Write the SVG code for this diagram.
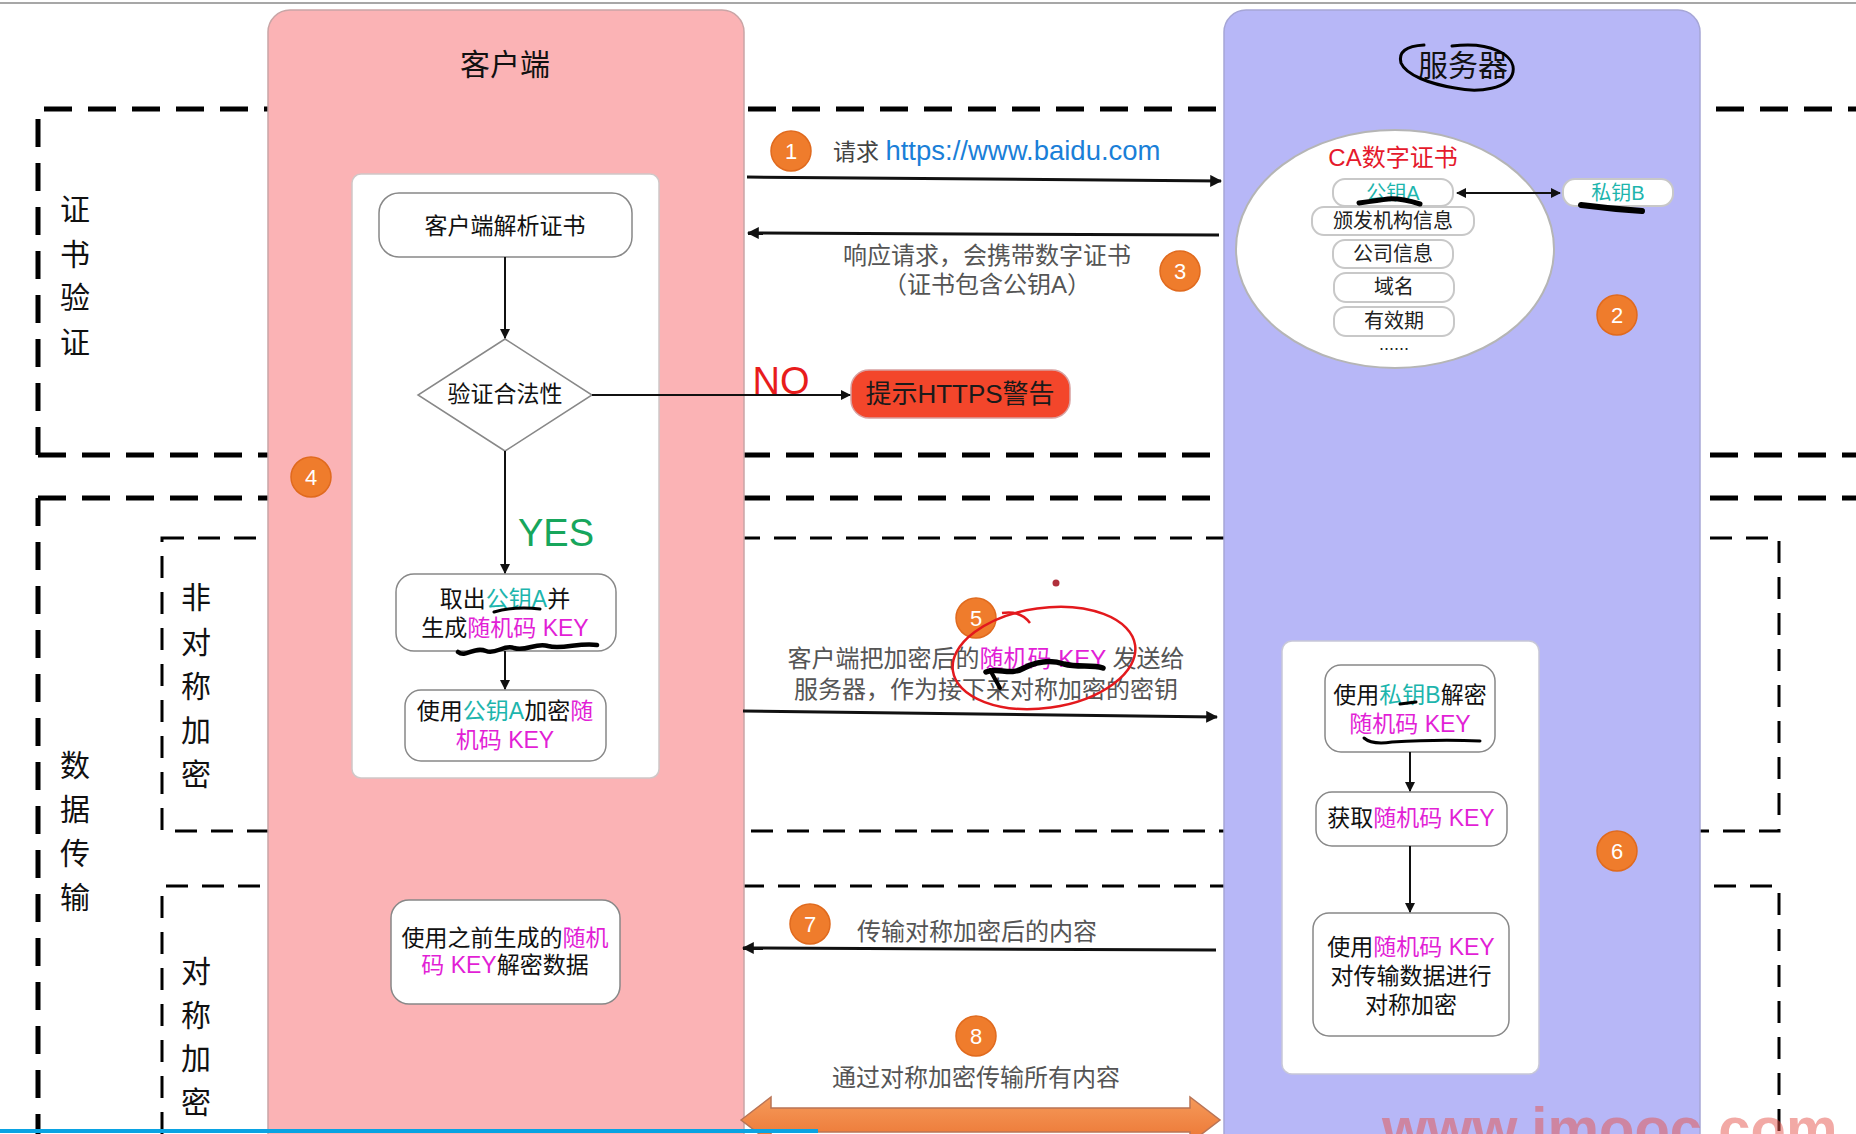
<svg xmlns="http://www.w3.org/2000/svg" width="1856" height="1134" viewBox="0 0 1856 1134">
<defs>
<style>
.t{font-family:"Liberation Sans","Noto Sans CJK SC",sans-serif;}
.big{font-size:30px;fill:#111;}
.node{fill:#fff;stroke:#888;stroke-width:1.5;}
.pill{fill:#fff;stroke:#c8c8c8;stroke-width:2;}
.nt{font-size:23px;fill:#111;text-anchor:middle;}
.lab{font-size:24px;fill:#555;}
.mg{fill:#e21fd6;}
.tl{fill:#1db5ad;}
.thick{fill:none;stroke:#000;stroke-width:5;stroke-dasharray:28 16;}
.thin{fill:none;stroke:#000;stroke-width:3;stroke-dasharray:22 14;}
.ln{fill:none;stroke:#111;stroke-width:2;}
.ar{fill:none;stroke:#111;stroke-width:3;}
.num{fill:#ef7c2c;stroke:#e06a1e;stroke-width:1.5;}
.nn{font-size:22px;fill:#fff;text-anchor:middle;}
.scr{fill:none;stroke:#000;stroke-linecap:round;stroke-linejoin:round;}
</style>
<marker id="ah" viewBox="0 0 10 10" refX="9" refY="5" markerWidth="4" markerHeight="4" orient="auto-start-reverse" markerUnits="strokeWidth"><path d="M0,0 L10,5 L0,10 z" fill="#111"/></marker>
<marker id="ah2" viewBox="0 0 10 10" refX="9" refY="5" markerWidth="5" markerHeight="5" orient="auto-start-reverse" markerUnits="strokeWidth"><path d="M0,0 L10,5 L0,10 z" fill="#111"/></marker>
<linearGradient id="og" x1="0" y1="0" x2="0" y2="1"><stop offset="0" stop-color="#f59a5a"/><stop offset="1" stop-color="#ec7634"/></linearGradient>
</defs>
<rect width="1856" height="1134" fill="#fff"/>
<line x1="0" y1="3" x2="1856" y2="3" stroke="#8a8a8a" stroke-width="1.5"/>

<g id="sections">
<path class="thick" d="M38,455 V109 H1856"/>
<path class="thick" d="M38,455 H1856"/>
<path class="thick" d="M38,498 H1856"/>
<path class="thick" d="M38,498 V1134"/>
<path class="thin" d="M162,538 H1779 V831 H162 Z"/>
<path class="thin" d="M162,1134 V886 H1779 V1134"/>
<g class="t big" text-anchor="middle">
<text x="75" y="220">证</text><text x="75" y="265">书</text><text x="75" y="308">验</text><text x="75" y="353">证</text>
<text x="75" y="776">数</text><text x="75" y="820">据</text><text x="75" y="864">传</text><text x="75" y="908">输</text>
<text x="196" y="608">非</text><text x="196" y="653">对</text><text x="196" y="697">称</text><text x="196" y="741">加</text><text x="196" y="785">密</text>
<text x="196" y="982">对</text><text x="196" y="1026">称</text><text x="196" y="1069">加</text><text x="196" y="1113">密</text>
</g>
</g>

<g id="client">
<rect x="268" y="10" width="476" height="1160" rx="22" fill="#fbb3b5" stroke="#c9a5a6" stroke-width="1.5"/>
<text class="t big" x="505" y="75" text-anchor="middle">客户端</text>
<rect x="352" y="174" width="307" height="604" rx="9" fill="#fff" stroke="#d0c8c8" stroke-width="1.5"/>
</g>

<g id="server">
<rect x="1224" y="10" width="476" height="1160" rx="22" fill="#b7b7f7" stroke="#a6a6d6" stroke-width="1.5"/>
<text class="t big" x="1463" y="76" text-anchor="middle">服务器</text>
<rect x="1282" y="641" width="257" height="433" rx="10" fill="#fff" stroke="#c8c8d8" stroke-width="1.5"/>
</g>

<g id="ca-cert">
<ellipse cx="1395" cy="249" rx="159" ry="119" fill="#fff" stroke="#b5b5b5" stroke-width="2"/>
<text class="t" x="1393" y="166" font-size="24" fill="#e5192c" text-anchor="middle">CA数字证书</text>
<rect class="pill" x="1333" y="179" width="120" height="27" rx="12"/>
<text class="t tl" x="1393" y="200" font-size="20" text-anchor="middle">公钥A</text>
<rect class="pill" x="1312" y="207" width="162" height="28" rx="12"/>
<text class="t" x="1393" y="228" font-size="20" fill="#222" text-anchor="middle">颁发机构信息</text>
<rect class="pill" x="1333" y="240" width="120" height="28" rx="12"/>
<text class="t" x="1393" y="261" font-size="20" fill="#222" text-anchor="middle">公司信息</text>
<rect class="pill" x="1334" y="273" width="120" height="29" rx="12"/>
<text class="t" x="1394" y="294" font-size="20" fill="#222" text-anchor="middle">域名</text>
<rect class="pill" x="1334" y="307" width="120" height="29" rx="12"/>
<text class="t" x="1394" y="328" font-size="20" fill="#222" text-anchor="middle">有效期</text>
<text class="t" x="1394" y="350" font-size="18" fill="#222" text-anchor="middle">......</text>
</g>

<g id="private-key">
<rect class="pill" x="1563" y="179" width="110" height="27" rx="12"/>
<text class="t tl" x="1618" y="200" font-size="20" text-anchor="middle">私钥B</text>
</g>

<g id="parse-cert">
<rect class="node" x="379" y="193" width="253" height="64" rx="20"/>
<text class="t nt" x="505" y="234" font-size="25">客户端解析证书</text>
</g>

<g id="verify">
<polygon class="node" points="505,339 592,395 505,451 418,395"/>
<text class="t nt" x="505" y="402" font-size="21">验证合法性</text>
</g>

<g id="https-warning">
<rect x="851" y="370" width="219" height="48" rx="18" fill="#f3462b" stroke="#d8a0a0" stroke-width="1.5"/>
<text class="t" x="960" y="403" font-size="26" fill="#1a1a1a" text-anchor="middle">提示HTTPS警告</text>
</g>

<g id="take-key">
<rect class="node" x="396" y="574" width="220" height="77" rx="18"/>
<text class="t nt" x="505" y="607">取出<tspan class="tl">公钥A</tspan>并</text>
<text class="t nt" x="505" y="636">生成<tspan class="mg">随机码 KEY</tspan></text>
</g>

<g id="encrypt-key">
<rect class="node" x="405" y="690" width="201" height="71" rx="16"/>
<text class="t nt" x="505" y="719">使用<tspan class="tl">公钥A</tspan>加密<tspan class="mg">随</tspan></text>
<text class="t nt" x="505" y="748"><tspan class="mg">机码 KEY</tspan></text>
</g>

<g id="decrypt-data">
<rect class="node" x="391" y="900" width="229" height="104" rx="18"/>
<text class="t nt" x="505" y="946">使用之前生成的<tspan class="mg">随机</tspan></text>
<text class="t nt" x="505" y="973"><tspan class="mg">码 KEY</tspan>解密数据</text>
</g>

<g id="decrypt-key">
<rect class="node" x="1325" y="665" width="170" height="87" rx="16"/>
<text class="t nt" x="1410" y="703">使用<tspan class="tl">私钥B</tspan>解密</text>
<text class="t nt" x="1410" y="732"><tspan class="mg">随机码 KEY</tspan></text>
</g>

<g id="get-key">
<rect class="node" x="1316" y="792" width="191" height="54" rx="16"/>
<text class="t nt" x="1411" y="826">获取<tspan class="mg">随机码 KEY</tspan></text>
</g>

<g id="sym-encrypt">
<rect class="node" x="1313" y="913" width="196" height="123" rx="16"/>
<text class="t nt" x="1411" y="955">使用<tspan class="mg">随机码 KEY</tspan></text>
<text class="t nt" x="1411" y="984">对传输数据进行</text>
<text class="t nt" x="1411" y="1013">对称加密</text>
</g>

<g id="connectors">
<line class="ln" x1="505" y1="257" x2="505" y2="338" marker-end="url(#ah2)"/>
<line class="ln" x1="592" y1="395" x2="850" y2="395" marker-end="url(#ah2)"/>
<line class="ln" x1="505" y1="451" x2="505" y2="573" marker-end="url(#ah2)"/>
<line class="ln" x1="505" y1="651" x2="505" y2="689" marker-end="url(#ah2)"/>
<line class="ln" x1="1410" y1="752" x2="1410" y2="791" marker-end="url(#ah2)"/>
<line class="ln" x1="1410" y1="846" x2="1410" y2="912" marker-end="url(#ah2)"/>
<line class="ln" x1="1457" y1="193" x2="1560" y2="193" marker-start="url(#ah2)" marker-end="url(#ah2)"/>
<line class="ar" x1="747" y1="177" x2="1221" y2="181" marker-end="url(#ah)"/>
<line class="ar" x1="1219" y1="235" x2="748" y2="233" marker-end="url(#ah)"/>
<line class="ar" x1="743" y1="711" x2="1217" y2="717" marker-end="url(#ah)"/>
<line class="ar" x1="1216" y1="950" x2="743" y2="948" marker-end="url(#ah)"/>
<polygon points="741,1120 771,1097 771,1108 1190,1108 1190,1097 1220,1120 1190,1143 1190,1132 771,1132 771,1143" fill="url(#og)" stroke="#b97456" stroke-width="1.5"/>
</g>

<g id="labels">
<text class="t" x="781" y="394" font-size="38" fill="#e81c1c" text-anchor="middle">NO</text>
<text class="t" x="556" y="546" font-size="38" fill="#17a65c" text-anchor="middle">YES</text>
<text class="t" x="833" y="160" font-size="23" fill="#444">请求 <tspan fill="#1a7fd8" font-size="27.5">https://www.baidu.com</tspan></text>
<text class="t lab" x="987" y="264" text-anchor="middle">响应请求，会携带数字证书</text>
<text class="t lab" x="987" y="293" text-anchor="middle">（证书包含公钥A）</text>
<text class="t lab" x="986" y="667" text-anchor="middle" font-size="24.5">客户端把加密后的<tspan class="mg">随机码 KEY</tspan> 发送给</text>
<text class="t lab" x="986" y="698" text-anchor="middle" font-size="24.5">服务器，作为接下来对称加密的密钥</text>
<text class="t lab" x="857" y="940">传输对称加密后的内容</text>
<text class="t lab" x="976" y="1086" text-anchor="middle">通过对称加密传输所有内容</text>
</g>

<g id="steps">
<circle class="num" cx="791" cy="151" r="20"/><text class="t nn" x="791" y="159">1</text>
<circle class="num" cx="1617" cy="315" r="20"/><text class="t nn" x="1617" y="323">2</text>
<circle class="num" cx="1180" cy="271" r="20"/><text class="t nn" x="1180" y="279">3</text>
<circle class="num" cx="311" cy="477" r="20"/><text class="t nn" x="311" y="485">4</text>
<circle class="num" cx="976" cy="618" r="20"/><text class="t nn" x="976" y="626">5</text>
<circle class="num" cx="1617" cy="851" r="20"/><text class="t nn" x="1617" y="859">6</text>
<circle class="num" cx="810" cy="924" r="20"/><text class="t nn" x="810" y="932">7</text>
<circle class="num" cx="976" cy="1036" r="20"/><text class="t nn" x="976" y="1044">8</text>
</g>

<g id="annotations">
<path class="scr" stroke-width="3" d="M1452,46 C1490,41 1516,55 1513,72 C1510,89 1478,93 1455,88 C1430,84 1406,75 1401,63 C1398,52 1406,46 1424,45"/>
<path class="scr" stroke-width="5" d="M1359,203 Q1380,200 1388,199 Q1400,198 1420,204"/>
<path class="scr" stroke-width="6" d="M1581,205 Q1612,209 1642,211"/>
<path class="scr" stroke-width="3" d="M494,612 Q515,606 540,609"/>
<path class="scr" stroke-width="4.5" d="M458,652 C466,658 474,646 486,651 C496,655 504,644 514,648 C526,652 536,642 548,646 C562,650 580,642 597,645"/>
<path class="scr" stroke-width="3" d="M1364,738 Q1372,745 1392,742 Q1440,739 1480,741"/>
<path class="scr" stroke-width="3" d="M1400,704 L1416,702"/>
<path class="scr" stroke-width="5.5" d="M986,672 C998,667 1010,676 1024,668 C1038,661 1052,660 1064,664 C1078,668 1092,664 1103,668"/>
<path class="scr" stroke-width="4" d="M990,670 L1000,688"/>
<ellipse cx="1044" cy="658" rx="92" ry="50" transform="rotate(-8 1044 658)" fill="none" stroke="#e3191d" stroke-width="2.5"/>
<path d="M1002,613 Q1020,610 1030,623" fill="none" stroke="#e3191d" stroke-width="2.5"/>
<circle cx="1056" cy="583" r="3.5" fill="#b0303c"/>
</g>

<text class="t" x="1382" y="1148" font-size="58" font-weight="bold" fill="#e6544c" fill-opacity="0.5">www.imooc.com</text>
<rect x="0" y="1129" width="818" height="4" fill="#09a3e3"/>
</svg>
